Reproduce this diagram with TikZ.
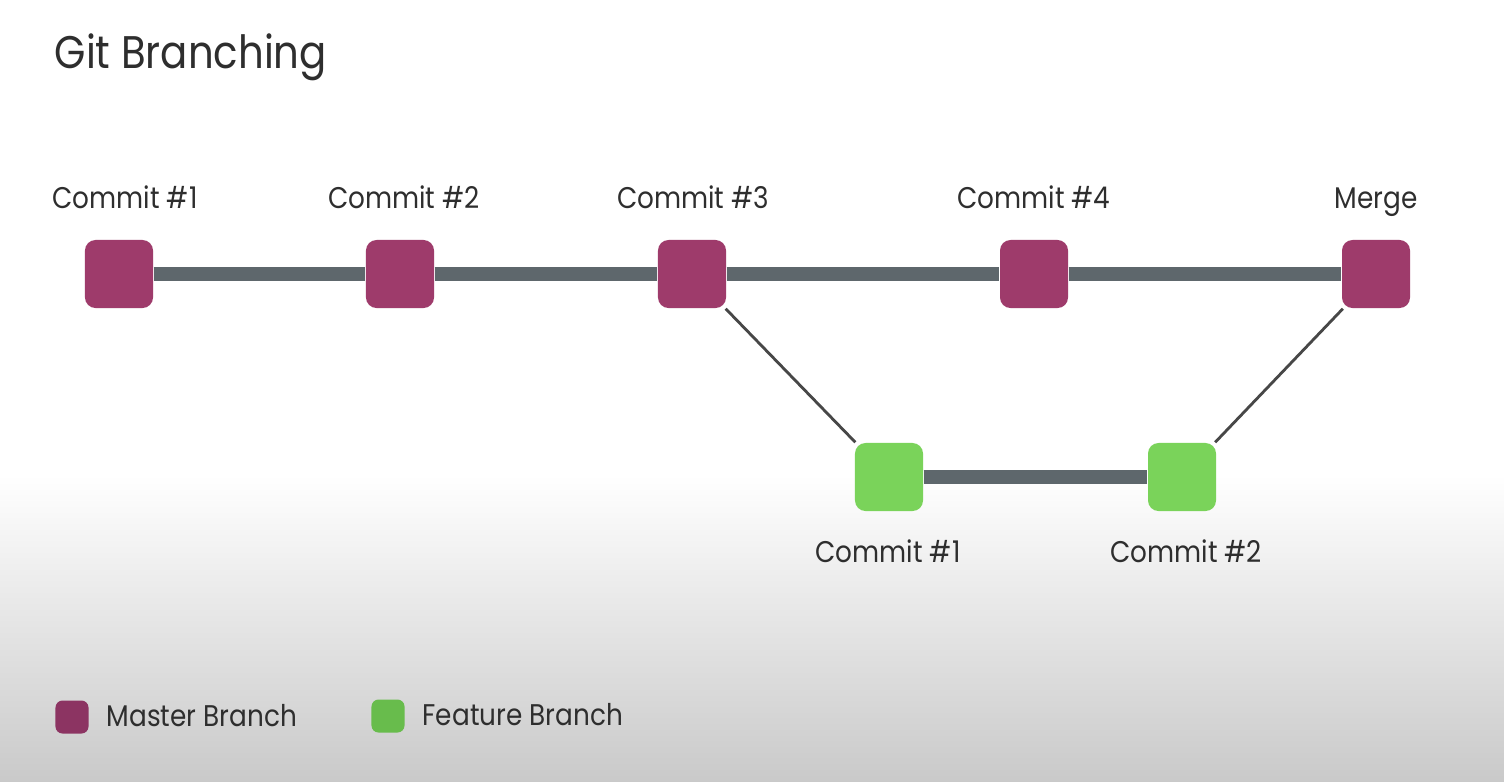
\documentclass[tikz,border=0pt]{standalone}
\usepackage{fontspec}
\setmainfont{Poppins}[FakeStretch=0.88]
\definecolor{mastercol}{HTML}{9E3B6B}
\definecolor{featurecol}{HTML}{7AD35A}
\definecolor{legmaster}{HTML}{8C3462}
\definecolor{legfeature}{HTML}{68BC4C}
\definecolor{trunkcol}{HTML}{5E676C}
\definecolor{textcol}{HTML}{2E2E2E}

\begin{document}
\begin{tikzpicture}[x=0.01cm,y=-0.01cm,
    master/.style={fill=mastercol,rounded corners=3pt,minimum size=0.68cm,inner sep=0pt},
    feature/.style={fill=featurecol,rounded corners=3pt,minimum size=0.68cm,inner sep=0pt},
    key/.style={rounded corners=2pt,minimum size=0.33cm,inner sep=0pt},
    trunk/.style={draw=trunkcol,line width=4pt},
    branch/.style={draw=black!72,line width=0.8pt},
    lbl/.style={text=textcol,font=\fontsize{8.5}{10}\selectfont,anchor=base,inner sep=0pt}]
      \useasboundingbox (0,0) rectangle (1504,781);
      \fill[white] (0,0) rectangle (1504,475);
      \shade[top color=white,bottom color=black!21] (0,475) rectangle (1504,781);
      % master branch
      \node[master] (c1) at (119,274) {};
      \node[master] (c2) at (400,274) {};
      \node[master] (c3) at (692,274) {};
      \node[master] (c4) at (1034,274) {};
      \node[master] (merge) at (1376,274) {};
      % feature branch
      \node[feature] (f1) at (889,477) {};
      \node[feature] (f2) at (1182,477) {};
      \draw[trunk] (c1)--(c2);
      \draw[trunk] (c2)--(c3);
      \draw[trunk] (c3)--(c4);
      \draw[trunk] (c4)--(merge);
      \draw[trunk] (f1)--(f2);
      \draw[branch] (c3)--(f1);
      \draw[branch] (f2)--(merge);
      % labels
      \node[lbl] (t1) at (125,208) {Commit \#1};
      \node[lbl] (t2) at (404,208) {Commit \#2};
      \node[lbl] (t3) at (693,208) {Commit \#3};
      \node[lbl] (t4) at (1034,208) {Commit \#4};
      \node[lbl] (tm) at (1376,208) {Merge};
      \node[lbl] (tf1) at (888,562) {Commit \#1};
      \node[lbl] (tf2) at (1186,562) {Commit \#2};
      \node[text=textcol,font=\fontsize{13}{16}\selectfont,anchor=base west,inner sep=0pt] (title) at (54,68) {Git Branching};
      % legend
      \node[key,fill=legmaster] (km) at (72,717) {};
      \node[lbl,anchor=base west] (kmt) at (106,726) {Master Branch};
      \node[key,fill=legfeature] (kf) at (388,716) {};
      \node[lbl,anchor=base west] (kft) at (422,725) {Feature Branch};
    \end{tikzpicture}
\end{document}
